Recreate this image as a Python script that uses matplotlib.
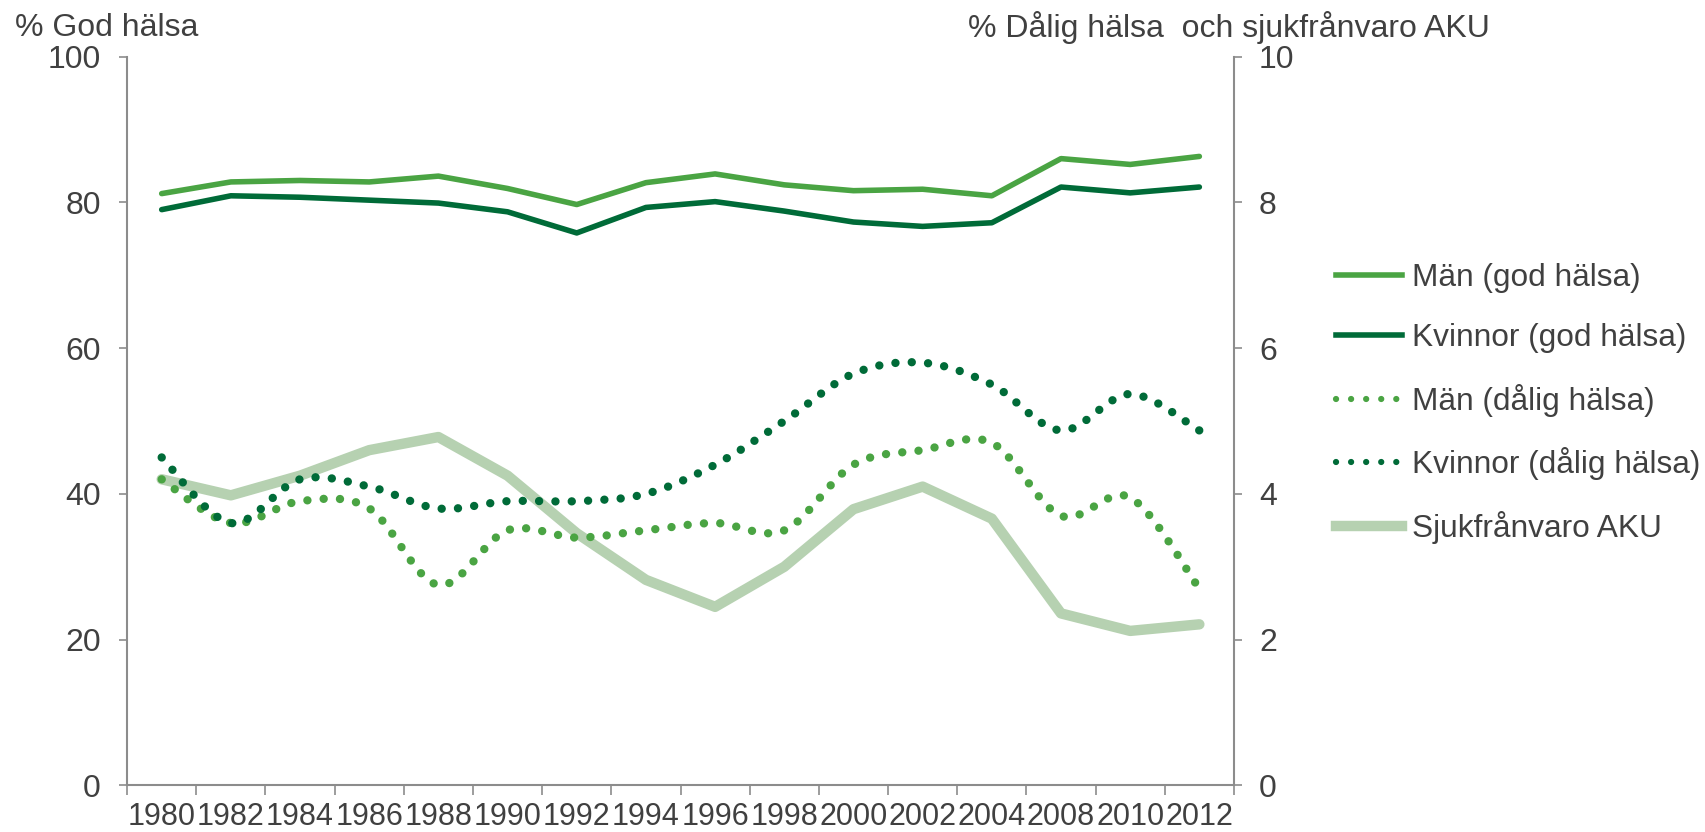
import numpy as np
import matplotlib
matplotlib.use("Agg")
import matplotlib.pyplot as plt
from matplotlib.path import Path
from matplotlib.patches import PathPatch
from matplotlib.lines import Line2D

plt.rcParams['font.family'] = ['Liberation Sans', 'DejaVu Sans']

# data
years = ["1980", "1982", "1984", "1986", "1988", "1990", "1992", "1994",
         "1996", "1998", "2000", "2002", "2004", "2008", "2010", "2012"]
man_god = [81.2, 82.8, 83.0, 82.8, 83.6, 81.9, 79.7, 82.7,
           83.9, 82.4, 81.6, 81.8, 80.9, 86.0, 85.2, 86.3]
kvinnor_god = [79.0, 80.9, 80.7, 80.3, 79.9, 78.7, 75.8, 79.3,
               80.1, 78.8, 77.3, 76.7, 77.2, 82.1, 81.3, 82.1]
man_dalig = [4.2, 3.6, 3.9, 3.8, 2.75, 3.5, 3.4, 3.5,
             3.6, 3.5, 4.4, 4.6, 4.7, 3.7, 3.95, 2.7]
kvinnor_dalig = [4.5, 3.6, 4.2, 4.1, 3.8, 3.9, 3.9, 4.0,
                 4.4, 5.0, 5.65, 5.8, 5.5, 4.87, 5.37, 4.87]
sjuk_aku = [4.2, 3.98, 4.25, 4.6, 4.78, 4.25, 3.46, 2.82,
            2.45, 3.0, 3.79, 4.1, 3.66, 2.36, 2.12, 2.21]

c_man = "#4aa443"
c_kvi = "#006b38"
c_sjuk = "#b6d1b1"
c_txt = "#404040"
c_ax = "#8c8c8c"


def smooth_path(x, y):
    # bezier path through the points (like excel "smoothed line")
    pts = np.column_stack([x, y]).astype(float)
    n = len(pts)
    verts = [pts[0]]
    codes = [Path.MOVETO]
    for i in range(n - 1):
        p0 = pts[i - 1] if i > 0 else pts[i]
        p1 = pts[i]
        p2 = pts[i + 1]
        p3 = pts[i + 2] if i + 2 < n else pts[i + 1]
        c1 = p1 + (p2 - p0) / 6.0
        c2 = p2 - (p3 - p1) / 6.0
        verts += [c1, c2, p2]
        codes += [Path.CURVE4] * 3
    return Path(verts, codes)


x = np.arange(len(years))

fig = plt.figure(figsize=(17.06, 8.32), dpi=100)
ax = fig.add_axes([0.0745, 0.056, 0.6488, 0.876])
ax2 = ax.twinx()

ax.plot(x, man_god, color=c_man, lw=4, solid_capstyle='round', zorder=3)
ax.plot(x, kvinnor_god, color=c_kvi, lw=4, solid_capstyle='round', zorder=3)

ax2.plot(x, sjuk_aku, color=c_sjuk, lw=7.5, solid_capstyle='round', zorder=2)
for vals, col in [(man_dalig, c_man), (kvinnor_dalig, c_kvi)]:
    p = PathPatch(smooth_path(x, vals), facecolor='none', edgecolor=col,
                  lw=6, linestyle=(0, (0.01, 1.95)), capstyle='round', zorder=3)
    ax2.add_patch(p)

ax.set_xlim(-0.5, len(years) - 0.5)
ax.set_ylim(0, 100)
ax2.set_ylim(0, 10)
ax.set_yticks([0, 20, 40, 60, 80, 100])
ax2.set_yticks([0, 2, 4, 6, 8, 10])

ax.set_xticks(np.arange(-0.5, len(years), 1))
ax.set_xticklabels([])
ax.set_xticks(x, minor=True)
ax.set_xticklabels(years, minor=True)
ax.tick_params(axis='x', which='major', length=7, width=1.2, color=c_ax)
ax.tick_params(axis='x', which='minor', length=0, pad=12, labelsize=22, labelcolor=c_txt)
ax.tick_params(axis='y', length=6, width=1.2, color=c_ax, pad=13, labelsize=23, labelcolor=c_txt)
ax2.tick_params(axis='y', length=6, width=1.2, color=c_ax, pad=12, labelsize=23, labelcolor=c_txt)

for a in (ax, ax2):
    for s in a.spines.values():
        s.set_color(c_ax)
        s.set_linewidth(1.5)
    a.spines['top'].set_visible(False)
ax.spines['right'].set_visible(False)
ax2.spines['left'].set_visible(False)
ax2.spines['bottom'].set_visible(False)

fig.text(15 / 1706, 1 - 28 / 832, "% God hälsa", fontsize=23, color=c_txt, va='center', ha='left')
fig.text(968 / 1706, 1 - 28 / 832, "% Dålig hälsa  och sjukfrånvaro AKU", fontsize=23,
         color=c_txt, va='center', ha='left')

handles = [
    Line2D([], [], color=c_man, lw=4),
    Line2D([], [], color=c_kvi, lw=4),
    Line2D([], [], color=c_man, lw=4.5, linestyle=(0, (0.01, 2.4)), dash_capstyle='round'),
    Line2D([], [], color=c_kvi, lw=4.5, linestyle=(0, (0.01, 2.4)), dash_capstyle='round'),
    Line2D([], [], color=c_sjuk, lw=7.5),
]
labels = ["Män (god hälsa)", "Kvinnor (god hälsa)", "Män (dålig hälsa)",
          "Kvinnor (dålig hälsa)", "Sjukfrånvaro AKU"]
leg = fig.legend(handles, labels, loc='upper left', bbox_to_anchor=(1336 / 1706, 1 - 263 / 832),
                 frameon=False, fontsize=22.8, handlelength=2.1, handletextpad=0.3,
                 labelspacing=0.96, borderpad=0, borderaxespad=0)
for t in leg.get_texts():
    t.set_color(c_txt)

fig.savefig("out.png", dpi=100)
